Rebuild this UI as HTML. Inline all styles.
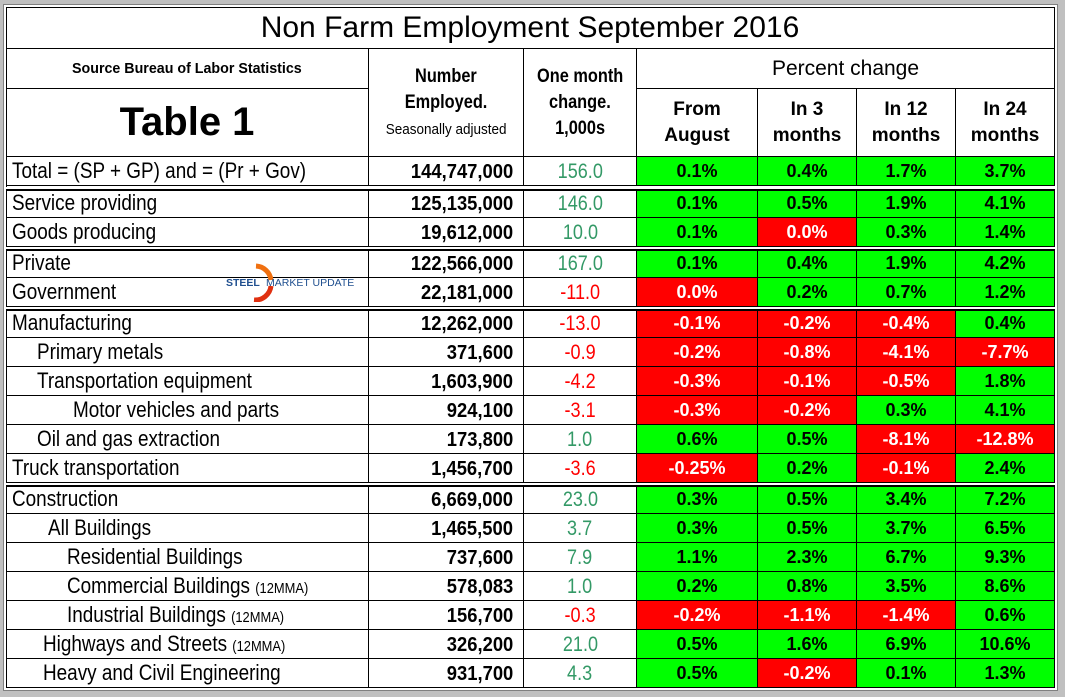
<!DOCTYPE html>
<html><head><meta charset="utf-8">
<style>
html,body{margin:0;padding:0;}
body{width:1065px;height:697px;background:#c0c0c0;position:relative;overflow:hidden;font-family:"Liberation Sans",sans-serif;}
#frame{position:absolute;left:3px;top:4px;width:1055px;height:687px;background:#fff;border:1px solid #808080;box-sizing:border-box;}
.c{position:absolute;box-sizing:border-box;border-right:1.5px solid #000;border-bottom:1.5px solid #000;display:flex;align-items:center;justify-content:center;overflow:visible;white-space:nowrap;}
.n{transform:scaleX(0.86);display:inline-block;}
.lab{justify-content:flex-start;font-size:22px;}
.lab .n{transform-origin:left center;}
.num{justify-content:flex-end;padding-right:10px;font-weight:bold;font-size:20px;padding-top:2px;}
.num .n{transform-origin:right center;transform:scaleX(0.92);}
.chg{font-size:21px;padding-top:2px;}
.pct{font-weight:bold;font-size:18px;}
.g{background:#00ff00;color:#000;}
.r{background:#ff0000;color:#fff;}
.hline{position:absolute;left:6px;width:1049px;height:1px;background:#000;}
</style></head>
<body>
<div id="frame"></div>
<div id="t"></div>
<script>
const labels=["Total = (SP + GP) and = (Pr + Gov)","Service providing","Goods producing","Private","Government","Manufacturing","Primary metals","Transportation equipment","Motor vehicles and parts","Oil and gas extraction","Truck transportation","Construction","All Buildings","Residential Buildings","Commercial Buildings","Industrial Buildings","Highways and Streets","Heavy and Civil Engineering"];
const mma=[0,0,0,0,0,0,0,0,0,0,0,0,0,0,1,1,1,0];
const indents=[6,6,6,6,6,6,31,31,67,31,6,6,42,61,61,61,37,37];
const employed=["144,747,000","125,135,000","19,612,000","122,566,000","22,181,000","12,262,000","371,600","1,603,900","924,100","173,800","1,456,700","6,669,000","1,465,500","737,600","578,083","156,700","326,200","931,700"];
const monthChange=[156.0,146.0,10.0,167.0,-11.0,-13.0,-0.9,-4.2,-3.1,1.0,-3.6,23.0,3.7,7.9,1.0,-0.3,21.0,4.3];
const fromAug=["0.1","0.1","0.1","0.1","0.0","-0.1","-0.2","-0.3","-0.3","0.6","-0.25","0.3","0.3","1.1","0.2","-0.2","0.5","0.5"];
const in3=["0.4","0.5","0.0","0.4","0.2","-0.2","-0.8","-0.1","-0.2","0.5","0.2","0.5","0.5","2.3","0.8","-1.1","1.6","-0.2"];
const in12=["1.7","1.9","0.3","1.9","0.7","-0.4","-4.1","-0.5","0.3","-8.1","-0.1","3.4","3.7","6.7","3.5","-1.4","6.9","0.1"];
const in24=["3.7","4.1","1.4","4.2","1.2","0.4","-7.7","1.8","4.1","-12.8","2.4","7.2","6.5","9.3","8.6","0.6","10.6","1.3"];
const redCells={"2-1":1,"4-0":1};
const rowTops=[157,189,218,249,278,309,338,367,396,425,454,485,514,543,572,601,630,659];
const rowH=29;
const X=[6,369,524,637,758,857,956,1055];
const t=document.getElementById('t');
function cell(x,y,w,h,cls,html,name){
  const d=document.createElement('div');
  d.className='c '+cls;
  d.style.left=x+'px';d.style.top=y+'px';d.style.width=w+'px';d.style.height=h+'px';
  d.innerHTML=html;
  
  
  t.appendChild(d);return d;
}
const ob=document.createElement('div');
ob.style.cssText='position:absolute;left:6px;top:7px;width:1049px;height:681px;border:1.5px solid #000;box-sizing:border-box;border-right:none;border-bottom:none;';


t.appendChild(ob);
cell(6,7,1049,42,'','<span style="font-size:30px">Non Farm Employment September 2016</span>','table-title');
cell(6,49,363,40,'','<span style="font-size:15px;font-weight:bold"><span class="n" style="transform:scaleX(0.95)">Source Bureau of Labor Statistics</span></span>','source-label');
cell(6,89,363,68,'','<span style="font-size:40px;font-weight:bold">Table 1</span>','table-number');
cell(369,49,155,108,'','<div style="text-align:center;line-height:26px;font-weight:bold;font-size:19px"><span class="n">Number</span><br><span class="n">Employed.</span><br><span style="font-weight:normal;font-size:15px;line-height:20px"><span class="n" style="transform:scaleX(0.9)">Seasonally adjusted</span></span></div>','number-employed-header');
cell(524,49,113,108,'','<div style="text-align:center;line-height:26px;font-weight:bold;font-size:19px"><span class="n">One month</span><br><span class="n">change.</span><br><span class="n">1,000s</span></div>','one-month-change-header');
cell(637,49,418,40,'','<span style="font-size:21px">Percent change</span>','percent-change-header');
const subs=["From<br>August","In 3<br>months","In 12<br>months","In 24<br>months"];
for(let i=0;i<4;i++){
  cell(X[i+3],89,X[i+4]-X[i+3],68,'','<div style="text-align:center;font-weight:bold;font-size:19px;line-height:26px">'+subs[i]+'</div>','percent-subheader-'+i);
}
const pcts=[fromAug,in3,in12,in24];
for(let r=0;r<labels.length;r++){
  const y=rowTops[r];
  let lab='<span class="n">'+labels[r]+(mma[r]?' <span style="font-size:15px">(12MMA)</span>':'')+'</span>';
  const lc=cell(X[0],y,X[1]-X[0],rowH,'lab',lab,'row-label-'+r);
  lc.style.paddingLeft=indents[r]+'px';
  cell(X[1],y,X[2]-X[1],rowH,'num','<span class="n">'+employed[r]+'</span>','employed-'+r);
  const v=monthChange[r];
  const cc=cell(X[2],y,X[3]-X[2],rowH,'chg','<span class="n">'+v.toFixed(1)+'</span>','month-change-'+r);
  cc.style.color=v<0?'#ff0000':'#339966';
  for(let k=0;k<4;k++){
    const s=pcts[k][r];
    const neg=s.charAt(0)==='-'||redCells[r+'-'+k];
    cell(X[k+3],y,X[k+4]-X[k+3],rowH,'pct '+(neg?'r':'g'),s+'%','pct-'+k+'-'+r);
  }
}
[187,247,307,483].forEach(function(y,i){
  const h=document.createElement('div');
  h.className='hline';h.style.top=y+'px';h.style.height='2px';h.style.background='#fff';
  
  
  t.appendChild(h);
  const h2=document.createElement('div');
  h2.className='hline';h2.style.top=(y+2)+'px';h2.style.height='1.5px';
  
  
  t.appendChild(h2);
});
</script>
<div style="position:absolute;left:226px;top:262px;width:136px;height:40px;">
<svg width="136" height="40"><path d="M30 4 A16 16 0 0 1 45 18" stroke="#f07010" stroke-width="5" fill="none"/><path d="M45 24 A16 16 0 0 1 28 38" stroke="#e03010" stroke-width="5" fill="none"/>
<text x="0" y="24" font-family="Liberation Sans" font-size="10.5" font-weight="bold" fill="#1f4f8f">STEEL</text><text x="40" y="24" font-family="Liberation Sans" font-size="10.5" fill="#1f4f8f">MARKET UPDATE</text></svg></div>
</body></html>
